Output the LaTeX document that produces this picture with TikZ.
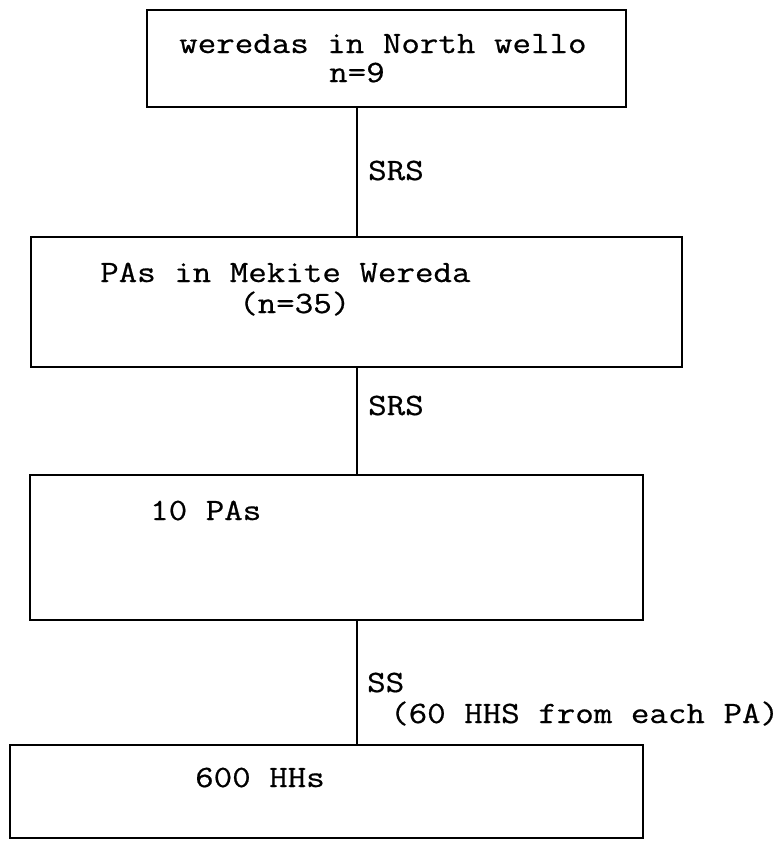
\documentclass[tikz,border=0pt]{standalone}
\usepackage{fontspec}
\newfontfamily\cour[FakeStretch=1.16,FakeBold=0.6]{Latin Modern Mono}
\begin{document}
\begin{tikzpicture}[x=1pt,y=-1pt,
  box/.style={draw, line width=1.8pt, inner sep=0pt, outer sep=0pt},
  lbl/.style={anchor=base west, inner sep=0pt, font=\cour\fontsize{31}{36}\selectfont},
  conn/.style={line width=1.3pt}]
\useasboundingbox (0,0) rectangle (784,841);
% boxes
\node[box, minimum width=479pt, minimum height=97pt]  (b1) at (386.5,58.5) {};
\node[box, minimum width=651pt, minimum height=130pt] (b2) at (356.5,302) {};
\node[box, minimum width=613pt, minimum height=145pt] (b3) at (336.5,547.5) {};
\node[box, minimum width=633pt, minimum height=93pt]  (b4) at (326.5,791.5) {};
% axis of connectors
\coordinate (ax) at (357,0);
\draw[conn] (b1.south -| ax) -- (b2.north -| ax);
\draw[conn] (b2.south -| ax) -- (b3.north -| ax);
\draw[conn] (b3.south -| ax) -- (b4.north -| ax);
% texts
\node[lbl] (t1a) at (179,53) {weredas in North wello};
\node[lbl] (t1b) at (329,82) {n=9};
\node[lbl] (t2a) at (100,282) {PAs in Mekite Wereda};
\node[lbl] (t2b) at (239,313) {(n=35)};
\node[lbl] (t3) at (150,520) {10 PAs};
\node[lbl] (t4) at (195,787) {600 HHs};
\node[lbl] (s1) at (368,180) {SRS};
\node[lbl] (s2) at (368,415) {SRS};
\node[lbl] (s3a) at (367,692) {SS};
\node[lbl] (s3b) at (390,723) {(60 HHS from each PA)};
\end{tikzpicture}
\end{document}
